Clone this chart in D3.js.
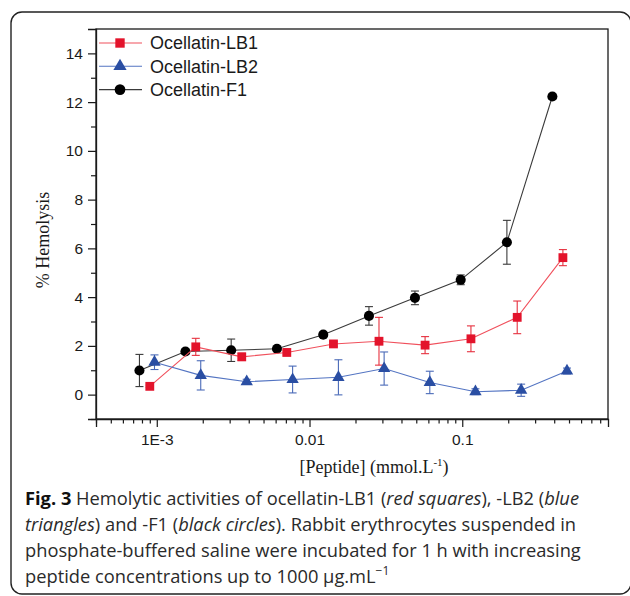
<!DOCTYPE html>
<html>
<head>
<meta charset="utf-8">
<script src="https://cdn.jsdelivr.net/npm/d3@7"></script>
<style>
  html, body { margin: 0; padding: 0; background: #fff; }
  svg { display: block; }
</style>
</head>
<body>
<svg id="chart" width="630" height="596"></svg>
<script>
// ---- Data ----
const seriesNames = ["Ocellatin-LB1", "Ocellatin-LB2", "Ocellatin-F1"];

const xLB1 = [9.0e-4, 1.80e-3, 3.6e-3, 7.1e-3, 0.01435, 0.0285, 0.0571, 0.114, 0.229, 0.456];
const yLB1 = [0.34, 1.96, 1.55, 1.73, 2.08, 2.19, 2.03, 2.29, 3.17, 5.62];
const eLB1 = [0.05, 0.35, 0.15, 0.10, 0.10, 0.98, 0.35, 0.53, 0.67, 0.33];

const xLB2 = [9.66e-4, 1.94e-3, 3.88e-3, 7.75e-3, 0.01546, 0.0308, 0.0613, 0.122, 0.243, 0.485];
const yLB2 = [1.33, 0.79, 0.53, 0.62, 0.71, 1.07, 0.50, 0.12, 0.18, 0.97];
const eLB2 = [0.30, 0.60, 0.10, 0.55, 0.72, 0.68, 0.46, 0.12, 0.25, 0.12];

const xF1 = [7.7e-4, 1.54e-3, 3.07e-3, 6.12e-3, 0.0123, 0.0245, 0.049, 0.0977, 0.196, 0.389];
const yF1 = [0.99, 1.77, 1.82, 1.88, 2.46, 3.23, 3.97, 4.71, 6.25, 12.23];
const eF1 = [0.66, 0.10, 0.46, 0.08, 0.10, 0.38, 0.28, 0.20, 0.90, 0.10];

const yMajorTicks = [0, 2, 4, 6, 8, 10, 12, 14];
const yMinorTicks = [-1, 1, 3, 5, 7, 9, 11, 13];
const xMajorTicks = [1e-3, 1e-2, 1e-1];
const xTickLabels = ["1E-3", "0.01", "0.1"];
const xMinorTicks = [4e-4, 5e-4, 6e-4, 7e-4, 8e-4, 9e-4,
                     2e-3, 3e-3, 4e-3, 5e-3, 6e-3, 7e-3, 8e-3, 9e-3,
                     2e-2, 3e-2, 4e-2, 5e-2, 6e-2, 7e-2, 8e-2, 9e-2,
                     0.2, 0.3, 0.4, 0.5, 0.6, 0.7, 0.8];

const yTitle = "% Hemolysis";

// ---- Layout ----
const svg = d3.select("#chart");
const pLeft = 96, pRight = 608, pTop = 29, pBottom = 419;

const x = d3.scaleLog().domain([4e-4, 0.9]).range([pLeft, pRight]);
const y = d3.scaleLinear().domain([-1, 15]).range([pBottom, pTop]);

// outer rounded frame
svg.append("rect")
  .attr("x", 11).attr("y", 12).attr("width", 620).attr("height", 582)
  .attr("rx", 11).attr("ry", 11)
  .attr("fill", "none").attr("stroke", "#222").attr("stroke-width", 1.4);

// plot box (top & right)
svg.append("rect")
  .attr("x", pLeft).attr("y", pTop).attr("width", pRight - pLeft).attr("height", pBottom - pTop)
  .attr("fill", "none").attr("stroke", "#1a1a1a").attr("stroke-width", 1.3);

const tickFont = "'Liberation Sans', Arial, sans-serif";

// Y axis
const yAxis = svg.append("g").attr("transform", `translate(${pLeft},0)`)
  .call(d3.axisLeft(y).tickValues(yMajorTicks).tickSize(8).tickPadding(5).tickFormat(d3.format("d")));
const yMinor = svg.append("g").attr("transform", `translate(${pLeft},0)`)
  .call(d3.axisLeft(y).tickValues(yMinorTicks).tickSize(5).tickFormat(""));

// X axis
const xAxis = svg.append("g").attr("transform", `translate(0,${pBottom})`)
  .call(d3.axisBottom(x).tickValues(xMajorTicks).tickSize(8).tickPadding(7)
        .tickFormat((d, i) => xTickLabels[i]));
const xMinor = svg.append("g").attr("transform", `translate(0,${pBottom})`)
  .call(d3.axisBottom(x).tickValues(xMinorTicks).tickSize(4.5).tickFormat(""));

[yAxis, yMinor, xAxis, xMinor].forEach(g => {
  g.select(".domain").attr("stroke", "#1a1a1a").attr("stroke-width", 1.3);
  g.selectAll(".tick line").attr("stroke", "#1a1a1a").attr("stroke-width", 1.2);
  g.selectAll("text").attr("font-family", tickFont).attr("font-size", 15.5).attr("fill", "#1a1a1a");
});
yMinor.select(".domain").remove();
xMinor.select(".domain").remove();

// Axis titles
svg.append("text")
  .attr("transform", `translate(49,240) rotate(-90)`)
  .attr("text-anchor", "middle")
  .attr("font-family", "'Liberation Serif', 'Times New Roman', serif")
  .attr("font-size", 18).attr("fill", "#1a1a1a")
  .text(yTitle);

const xt = svg.append("text")
  .attr("x", 374).attr("y", 473)
  .attr("text-anchor", "middle")
  .attr("font-family", "'Liberation Serif', 'Times New Roman', serif")
  .attr("font-size", 18).attr("fill", "#1a1a1a");
xt.append("tspan").text("[Peptide] (mmol.L");
xt.append("tspan").attr("font-size", 11).attr("dy", -7).text("-1");
xt.append("tspan").attr("dy", 7).text(")");

// ---- Series ----
const series = [
  { name: seriesNames[2], xs: xF1, ys: yF1, es: eF1, line: "#3a3a3a", err: "#3a3a3a", fill: "#000000", sym: d3.symbolCircle, size: 80 },
  { name: seriesNames[0], xs: xLB1, ys: yLB1, es: eLB1, line: "#f0505c", err: "#e6303e", fill: "#e3132b", sym: d3.symbolSquare, size: 78 },
  { name: seriesNames[1], xs: xLB2, ys: yLB2, es: eLB2, line: "#5374c2", err: "#4a6ab8", fill: "#2a4ea3", sym: d3.symbolTriangle, size: 66 }
];

const lineGen = d3.line().x(d => x(d[0])).y(d => y(d[1]));

series.forEach(s => {
  const pts = s.xs.map((xv, i) => [xv, s.ys[i], s.es[i]]);
  const g = svg.append("g");
  g.append("path").datum(pts)
    .attr("d", lineGen).attr("fill", "none")
    .attr("stroke", s.line).attr("stroke-width", 1.1);
  const eb = g.selectAll("g.eb").data(pts).enter().append("g")
    .attr("stroke", s.err).attr("stroke-width", 1.1);
  eb.append("line")
    .attr("x1", d => x(d[0])).attr("x2", d => x(d[0]))
    .attr("y1", d => y(d[1] + d[2])).attr("y2", d => y(d[1] - d[2]));
  eb.append("line")
    .attr("x1", d => x(d[0]) - 4).attr("x2", d => x(d[0]) + 4)
    .attr("y1", d => y(d[1] + d[2])).attr("y2", d => y(d[1] + d[2]));
  eb.append("line")
    .attr("x1", d => x(d[0]) - 4).attr("x2", d => x(d[0]) + 4)
    .attr("y1", d => y(d[1] - d[2])).attr("y2", d => y(d[1] - d[2]));
  g.selectAll("path.mk").data(pts).enter().append("path")
    .attr("class", "mk")
    .attr("transform", d => `translate(${x(d[0])},${y(d[1])})`)
    .attr("d", d3.symbol().type(s.sym).size(s.size))
    .attr("fill", s.fill);
});

// ---- Legend ----
const legendOrder = [series[1], series[2], series[0]];
const legend = svg.append("g");
legendOrder.forEach((s, i) => {
  const ly = 43 + i * 23.3;
  legend.append("line")
    .attr("x1", 99).attr("x2", 142).attr("y1", ly).attr("y2", ly)
    .attr("stroke", s.line).attr("stroke-width", 1.1);
  legend.append("path")
    .attr("transform", `translate(120,${ly})`)
    .attr("d", d3.symbol().type(s.sym).size(s.size + 10))
    .attr("fill", s.fill);
  legend.append("text")
    .attr("x", 150).attr("y", ly).attr("dy", "0.35em")
    .attr("font-family", tickFont).attr("font-size", 18).attr("fill", "#1a1a1a")
    .text(s.name);
});

// ---- Caption ----
const capFont = "'Open Sans', 'Noto Sans', sans-serif";
const capLines = [
  [["Fig. 3", "b"], [" Hemolytic activities of ocellatin-LB1 (", "n"], ["red squares", "i"], ["), -LB2 (", "n"], ["blue", "i"]],
  [["triangles", "i"], [") and -F1 (", "n"], ["black circles", "i"], ["). Rabbit erythrocytes suspended in", "n"]],
  [["phosphate-buffered saline were incubated for 1 h with increasing", "n"]],
  [["peptide concentrations up to 1000 µg.mL", "n"], ["−1", "sup"]]
];
capLines.forEach((parts, i) => {
  const t = svg.append("text")
    .attr("x", 25).attr("y", 505 + i * 26)
    .attr("font-family", capFont).attr("font-size", 18.3).attr("fill", "#2a2a2a");
  parts.forEach(([txt, st]) => {
    const sp = t.append("tspan").text(txt);
    if (st === "b") sp.attr("font-weight", "bold").attr("fill", "#111");
    if (st === "i") sp.attr("font-style", "italic");
    if (st === "sup") sp.attr("font-size", 12).attr("dy", -8);
  });
});
</script>
</body>
</html>
